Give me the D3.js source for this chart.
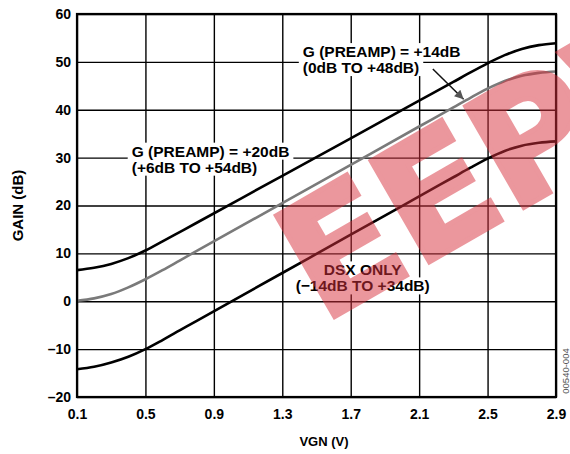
<!DOCTYPE html>
<html>
<head>
<meta charset="utf-8">
<script src="https://cdn.jsdelivr.net/npm/d3@7"></script>
<style>
  body { margin: 0; background: #fff; }
  text { font-family: "Liberation Sans", Arial, sans-serif; font-weight: bold; }
</style>
</head>
<body>
<script>
// curve data
const vgn = [0.1, 0.2, 0.3, 0.4, 0.5, 0.6, 0.7, 0.8, 1.3, 1.7, 2.1, 2.3, 2.4, 2.5, 2.6, 2.7, 2.8, 2.9];
const gainPre20 = [6.5, 7.0, 7.8, 9.0, 10.6, 12.5, 14.45, 16.4, 26.2, 34.0, 41.9, 45.8, 47.8, 49.7, 51.4, 52.7, 53.5, 53.9];
const gainPre14 = [0.1, 0.6, 1.5, 2.9, 4.6, 6.5, 8.5, 10.5, 20.5, 28.5, 36.5, 40.5, 42.5, 44.4, 46.0, 47.1, 47.7, 48.0];
const gainDsx = [-14.2, -13.7, -12.8, -11.6, -10.0, -8.1, -6.1, -4.1, 5.9, 13.9, 21.9, 25.9, 27.9, 29.8, 31.4, 32.5, 33.1, 33.4];

const xTicks = [0.1, 0.5, 0.9, 1.3, 1.7, 2.1, 2.5, 2.9];
const yTicks = [-20, -10, 0, 10, 20, 30, 40, 50, 60];

const width = 570;
const height = 454;
const margin = { top: 14, right: 14, bottom: 57, left: 77 };

const svg = d3.select('body').append('svg')
  .attr('width', width)
  .attr('height', height);

const x = d3.scaleLinear().domain([0.1, 2.9]).range([margin.left, width - margin.right]);
const y = d3.scaleLinear().domain([-20, 60]).range([height - margin.bottom, margin.top]);

// grid
svg.append('g')
  .attr('transform', `translate(0,${margin.top})`)
  .call(d3.axisBottom(x).tickValues(xTicks).tickSize(height - margin.top - margin.bottom).tickFormat(''))
  .call(g => g.select('.domain').remove())
  .call(g => g.selectAll('line').attr('stroke', '#000').attr('stroke-width', 1.4));

svg.append('g')
  .attr('transform', `translate(${margin.left},0)`)
  .call(d3.axisRight(y).tickValues(yTicks).tickSize(width - margin.left - margin.right).tickFormat(''))
  .call(g => g.select('.domain').remove())
  .call(g => g.selectAll('line').attr('stroke', '#000').attr('stroke-width', 1.4));

// tick labels
svg.append('g')
  .attr('transform', `translate(0,${height - margin.bottom})`)
  .call(d3.axisBottom(x).tickValues(xTicks).tickSize(0).tickPadding(12).tickFormat(d3.format('.1f')))
  .call(g => g.select('.domain').remove())
  .call(g => g.selectAll('text').attr('font-size', 14).attr('fill', '#000')
    .style('font-family', '"Liberation Sans", Arial, sans-serif').style('font-weight', 'bold'));

svg.append('g')
  .attr('transform', `translate(${margin.left},0)`)
  .call(d3.axisLeft(y).tickValues(yTicks).tickSize(0).tickPadding(6).tickFormat(d => d < 0 ? '\u2013' + Math.abs(d) : d))
  .call(g => g.select('.domain').remove())
  .call(g => g.selectAll('text').attr('font-size', 14).attr('fill', '#000')
    .style('font-family', '"Liberation Sans", Arial, sans-serif').style('font-weight', 'bold'));

// labels with white backing
function label(lines, vx, vy, anchor) {
  const g = svg.append('g');
  lines.forEach((t, i) => {
    const txt = g.append('text')
      .attr('x', x(vx))
      .attr('y', y(vy) + i * 16)
      .attr('font-size', 15.5)
      .attr('text-anchor', anchor)
      .text(t);
    const b = txt.node().getBBox();
    g.insert('rect', 'text')
      .attr('x', b.x - 4).attr('y', b.y)
      .attr('width', b.width + 8).attr('height', b.height)
      .attr('fill', '#fff');
  });
}

label(['G (PREAMP) = +20dB', '(+6dB TO +54dB)'], 0.42, 30.2, 'start');
label(['G (PREAMP) = +14dB', '(0dB TO +48dB)'], 1.42, 51, 'start');
label(['DSX ONLY', '(\u221214dB TO +34dB)'], 1.77, 5.4, 'middle');

// curves
const line = d3.line()
  .x((d, i) => x(vgn[i]))
  .y(d => y(d))
  .curve(d3.curveMonotoneX);

const series = [
  { values: gainPre20, color: '#000' },
  { values: gainPre14, color: '#7a7a7a' },
  { values: gainDsx, color: '#000' }
];

svg.selectAll('path.curve')
  .data(series)
  .enter().append('path')
  .attr('class', 'curve')
  .attr('d', d => line(d.values))
  .attr('fill', 'none')
  .attr('stroke', d => d.color)
  .attr('stroke-width', 2.6);

// arrow to the +14dB curve
svg.append('defs').append('marker')
  .attr('id', 'head')
  .attr('viewBox', '0 0 10 10')
  .attr('refX', 10).attr('refY', 5)
  .attr('markerWidth', 13).attr('markerHeight', 9)
  .attr('markerUnits', 'userSpaceOnUse')
  .attr('orient', 'auto')
  .append('path')
  .attr('d', 'M0,0L10,5L0,10Z')
  .attr('fill', '#555');

svg.append('line')
  .attr('x1', x(2.18)).attr('y1', y(48.5))
  .attr('x2', x(2.36)).attr('y2', y(42.2))
  .attr('stroke', '#111')
  .attr('stroke-width', 1.5)
  .attr('marker-end', 'url(#head)');

// frame
svg.append('rect')
  .attr('x', margin.left).attr('y', margin.top)
  .attr('width', width - margin.left - margin.right)
  .attr('height', height - margin.top - margin.bottom)
  .attr('fill', 'none')
  .attr('stroke', '#000')
  .attr('stroke-width', 2.2);

// axis titles
svg.append('text')
  .attr('x', 324).attr('y', 446)
  .attr('font-size', 13)
  .attr('text-anchor', 'middle')
  .text('VGN (V)');

svg.append('text')
  .attr('transform', `translate(23,${(margin.top + height - margin.bottom) / 2}) rotate(-90)`)
  .attr('font-size', 15)
  .attr('text-anchor', 'middle')
  .text('GAIN (dB)');

svg.append('text')
  .attr('transform', 'translate(569,371) rotate(-90)')
  .attr('font-size', 9.5)
  .attr('text-anchor', 'middle')
  .style('font-weight', 'normal')
  .attr('fill', '#555')
  .text('00540-004');

// watermark
svg.append('text')
  .attr('transform', 'translate(322,324) rotate(-30)')
  .attr('font-size', 160)
  .style('font-family', '"DejaVu Sans", sans-serif')
  .style('font-weight', 'bold')
  .attr('fill', 'rgb(216,49,61)')
  .attr('stroke', 'rgb(216,49,61)')
  .attr('stroke-width', 5)
  .attr('opacity', 0.5)
  .text('EEPW');
</script>
</body>
</html>
